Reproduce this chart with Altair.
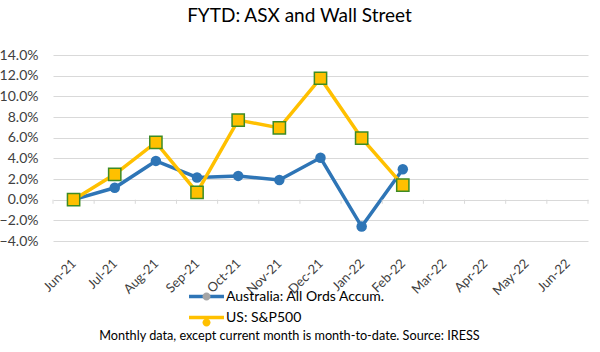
import json
import altair as alt
import pandas as pd

months = ["Jun-21", "Jul-21", "Aug-21", "Sep-21", "Oct-21", "Nov-21", "Dec-21",
          "Jan-22", "Feb-22", "Mar-22", "Apr-22", "May-22", "Jun-22"]
aus_name = "Australia: All Ords Accum."
us_name = "US: S&P500"
aus_values = [0.0, 1.15, 3.75, 2.15, 2.3, 1.9, 4.05, -2.6, 2.95]
us_values = [0.0, 2.45, 5.55, 0.7, 7.7, 6.95, 11.75, 5.95, 1.4]
y_ticks = [-4, -2, 0, 2, 4, 6, 8, 10, 12, 14]

title_text = "FYTD: ASX and Wall Street"
footer_text = "Monthly data, except current month is month-to-date.  Source: IRESS"

BLUE = "#2E75B6"
YELLOW = "#FFC000"
GREEN = "#3D8B24"
GREY = "#A5A5A5"
GRID = "#D9D9D9"
FONT = "Lato"

rows = []
for i, v in enumerate(aus_values):
    rows.append({"idx": i, "month": months[i], "series": aus_name, "value": v})
for i, v in enumerate(us_values):
    rows.append({"idx": i, "month": months[i], "series": us_name, "value": v})
df = pd.DataFrame(rows)

boundaries = pd.DataFrame({"b": [i - 0.5 for i in range(len(months) + 1)]})

label_expr = json.dumps(months) + "[datum.value]"

x_scale = alt.Scale(domain=[-0.5, len(months) - 0.5], nice=False, zero=False)
y_scale = alt.Scale(domain=[-4, 14], nice=False, zero=False)

x_axis = alt.Axis(
    values=list(range(len(months))),
    labelExpr=label_expr,
    labelAngle=315,
    labelAlign="right",
    labelBaseline="middle",
    labelPadding=20,
    labelFontSize=13,
    labelColor="#404040",
    labelFont=FONT,
    labelOverlap=False,
    labelFlush=False,
    labelBound=False,
    grid=False,
    ticks=False,
    domain=False,
    title=footer_text,
    titleFont=FONT,
    titleFontSize=12.7,
    titleFontWeight="normal",
    titleColor="#000000",
    titleX=236,
    titleY=98,
    titleAlign="center",
    titleBaseline="alphabetic",
)

y_axis = alt.Axis(
    values=y_ticks,
    labelExpr="format(datum.value, '.1f') + '%'",
    labelFontSize=14,
    labelFont=FONT,
    labelColor="#404040",
    labelPadding=15,
    labelOverlap=False,
    labelFlush=False,
    labelBound=False,
    ticks=False,
    domain=False,
    grid=True,
    gridColor=GRID,
    gridWidth=1,
    title=None,
)

x_enc = alt.X("idx:Q", scale=x_scale, axis=x_axis)
y_enc = alt.Y("value:Q", scale=y_scale, axis=y_axis)

LEG_X = 143.5
LEG_Y = 231.5
LEG_SIZE = 272
LEG_ROWPAD = 4

line_legend = alt.Legend(
    orient="none",
    legendX=LEG_X,
    legendY=LEG_Y,
    title=None,
    symbolType="M-2.12,0H2.12",
    symbolSize=LEG_SIZE,
    symbolStrokeWidth=3.5,
    labelOffset=9.5,
    labelFont=FONT,
    labelFontSize=14,
    labelColor="#000000",
    rowPadding=LEG_ROWPAD,
    padding=0,
    zindex=1,
)

stroke_scale = alt.Scale(domain=[aus_name, us_name], range=[BLUE, YELLOW])

base = alt.Chart(df)

aus_line = base.transform_filter(alt.datum.series == aus_name).mark_line(
    strokeWidth=3.5
).encode(
    x=x_enc, y=y_enc,
    stroke=alt.Stroke("series:N", scale=stroke_scale, legend=line_legend),
)
aus_pts = base.transform_filter(alt.datum.series == aus_name).mark_circle(
    size=110, color=BLUE, opacity=1
).encode(x=x_enc, y=y_enc)

us_line = base.transform_filter(alt.datum.series == us_name).mark_line(
    strokeWidth=3.5
).encode(
    x=x_enc, y=y_enc,
    stroke=alt.Stroke("series:N", scale=stroke_scale, legend=line_legend),
)
us_pts = base.transform_filter(alt.datum.series == us_name).mark_point(
    shape="square", size=150, filled=True, fill=YELLOW, stroke=GREEN,
    strokeWidth=1.5, opacity=1
).encode(x=x_enc, y=y_enc)

axis_ticks = alt.Chart(boundaries).mark_rule(color=GRID, strokeWidth=1).encode(
    x=alt.X("b:Q", scale=x_scale, axis=x_axis),
    y=alt.YDatum(0, scale=y_scale, axis=y_axis),
    y2=alt.Y2Datum(-0.4),
)

marker_legend = alt.Legend(
    orient="none",
    legendX=LEG_X,
    legendY=LEG_Y,
    title=None,
    values=[aus_name, us_name],
    symbolType="M-0.485,0A0.485,0.485 0 1,1 0.485,0A0.485,0.485 0 1,1 -0.485,0Z",
    symbolSize=LEG_SIZE,
    symbolStrokeWidth=3.5,
    symbolStrokeColor="transparent",
    labelOffset=9.5,
    labelFont=FONT,
    labelFontSize=14,
    labelExpr="''",
    rowPadding=LEG_ROWPAD,
    padding=0,
    zindex=2,
)

legend_pts = base.transform_filter("false").mark_point(filled=True, opacity=1).encode(
    x=x_enc, y=y_enc,
    fill=alt.Fill("series:N",
                  scale=alt.Scale(domain=[us_name, aus_name], range=[YELLOW, GREY]),
                  legend=marker_legend),
)

chart = alt.layer(
    aus_line, axis_ticks, aus_pts, us_line, us_pts, legend_pts
).properties(
    width=535,
    height=186,
    padding={"left": 53, "top": 55, "right": 12, "bottom": 111},
    autosize=alt.AutoSizeParams(type="none"),
    background="white",
    title=alt.TitleParams(
        text=title_text,
        font=FONT,
        fontSize=19,
        fontWeight="normal",
        color="#000000",
        anchor="middle",
        frame="group",
        dx=-21,
        offset=22,
    ),
).configure_view(stroke=None)

chart.save("out.html", embed_options={"renderer": "svg", "actions": False})
